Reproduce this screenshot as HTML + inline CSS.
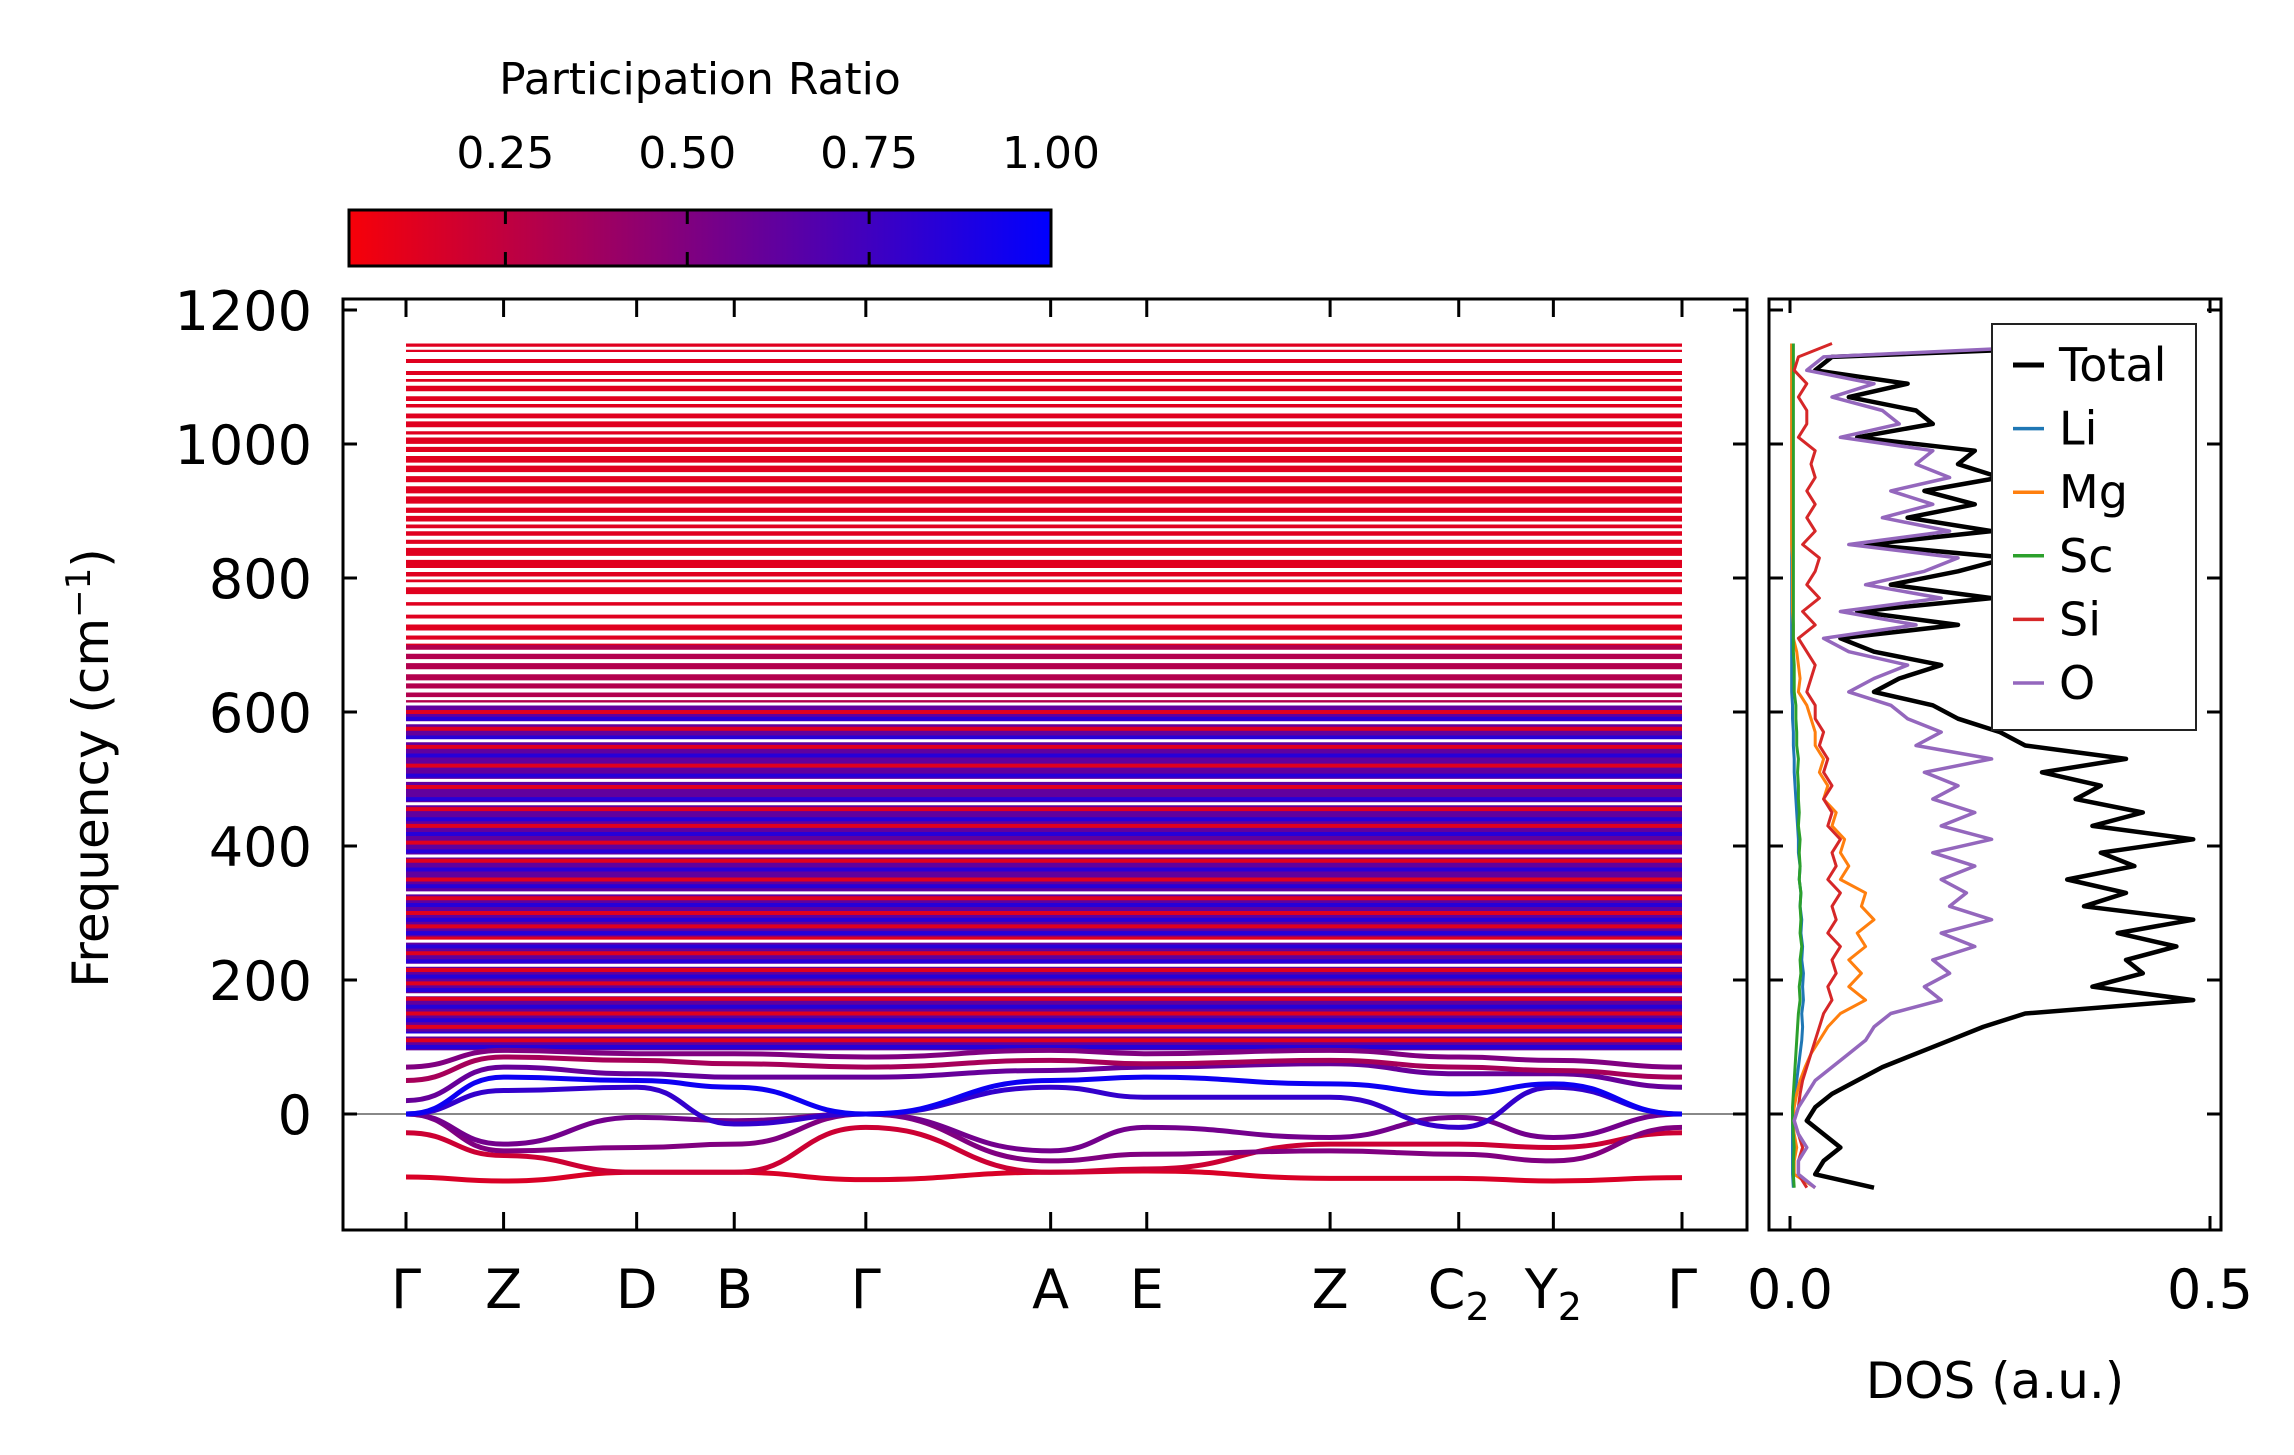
<!DOCTYPE html>
<html><head><meta charset="utf-8"><style>
body{margin:0;background:#fff}
svg{display:block;font-family:"DejaVu Sans","Liberation Sans",sans-serif}
</style></head><body>
<svg id="fig" width="2294" height="1455" viewBox="0 0 2294 1455" xmlns="http://www.w3.org/2000/svg">
<defs>
<linearGradient id="cg" x1="0" x2="1" y1="0" y2="0">
<stop offset="0" stop-color="#f70008"/><stop offset="1" stop-color="#0000ff"/>
</linearGradient>
<clipPath id="mainclip"><rect x="343" y="299" width="1404" height="931"/></clipPath>
<clipPath id="dosclip"><rect x="1769" y="299" width="452" height="931"/></clipPath>
</defs>
<g id="cbar">
<text x="700" y="94" font-size="44" text-anchor="middle">Participation Ratio</text>
<rect x="349" y="210" width="702" height="56" fill="url(#cg)" stroke="#000" stroke-width="3"/>
</g>
<g id="main">
<g id="bands" clip-path="url(#mainclip)"></g>
<rect x="343" y="299" width="1404" height="931" fill="none" stroke="#000" stroke-width="3"/>
<g id="mainAxes"></g>
<text transform="translate(108,768) rotate(-90)" font-size="50" text-anchor="middle">Frequency (cm<tspan dy="-18" font-size="34">−1</tspan><tspan dy="18">)</tspan></text>
</g>
<g id="dos">
<g id="dosLines" clip-path="url(#dosclip)"></g>
<rect x="1769" y="299" width="452" height="931" fill="none" stroke="#000" stroke-width="3"/>
<g id="dosAxes"></g>
<text x="1995" y="1398" font-size="50" text-anchor="middle">DOS (a.u.)</text>
<g id="legend"></g>
</g>
</svg>
<script>
const NS='http://www.w3.org/2000/svg';
// ---- band structure data ----
const kLabels=['Γ','Z','D','B','Γ','A','E','Z','C','Y','Γ'];
const kSubs=['','','','','','','','','2','2',''];
const kDist=[0,0.66,1.56,2.22,3.11,4.36,5.01,6.25,7.12,7.76,8.63];
const yTicks=[0,200,400,600,800,1000,1200];
const cbTicks=[0.25,0.50,0.75,1.00];
const cbRange=[0.035,1.0];
// high-frequency block (red)
const highBlock=[700,1150];
const highPR=0.12;
const highGaps=[1143,1132,1115,1100,1090,1075,1062,1050,1036,1022,1012,998,985,970,955,940,924,908,895,882,872,860,848,830,812,800,790,770,752,735,718,705];
const highGapW=[3,7,8,4,4,5,3,6,3,4,3,3,4,3,4,4,3,4,3,3,3,4,4,4,4,3,5,8,9,6,5,4];
// mid block
const midBlock=[612,700];
const midPR=0.3;
const midGaps=[690,676,660,645,632,620];
const midGapW=[4,4,5,3,4,3];
// dense block
const denseBlock=[95,612];
const densePR=0.62;
const denseRed=[600,575,548,520,488,455,430,405,378,350,322,300,280,262,240,215,195,172,150,130,110];
const denseBlue=[590,562,535,505,470,440,418,392,365,340,312,290,270,250,228,205,185,160,140,120,100];
const denseGaps=[612,584,557,498,463,385,330,258,222,178,118];
// low bands: frequency at each k-point
const lowBands=[
 [-94,-100,-87,-87,-98,-87,-85,-96,-96,-100,-95],
 [-28,-62,-87,-87,-20,-87,-82,-45,-45,-50,-28],
 [0,-55,-50,-45,0,-70,-60,-55,-60,-70,-20],
 [0,-45,-5,-10,0,-55,-20,-35,-5,-35,0],
 [0,35,40,-15,0,40,25,25,-20,40,0],
 [0,55,50,40,0,50,55,45,30,45,0],
 [20,70,60,55,55,65,70,75,60,60,40],
 [50,85,80,75,70,80,75,80,70,65,55],
 [70,95,90,90,85,95,90,95,85,80,70]
];
const lowPR=[0.15,0.2,0.5,0.55,0.8,0.95,0.6,0.35,0.5];
// ---- DOS data ----
const dosFreq=[-110,-90,-70,-50,-30,-10,10,30,50,70,90,110,130,150,170,190,210,230,250,270,290,310,330,350,370,390,410,430,450,470,490,510,530,550,570,590,610,630,650,670,690,710,730,750,770,790,810,830,850,870,890,910,930,950,970,990,1010,1030,1050,1070,1090,1110,1130,1150];
const dosTotal=[0.10,0.03,0.04,0.06,0.04,0.02,0.03,0.05,0.08,0.11,0.15,0.19,0.23,0.28,0.48,0.36,0.42,0.40,0.46,0.39,0.48,0.35,0.40,0.33,0.41,0.37,0.48,0.36,0.42,0.34,0.37,0.30,0.40,0.28,0.25,0.20,0.17,0.10,0.13,0.18,0.10,0.06,0.20,0.08,0.24,0.12,0.20,0.26,0.09,0.24,0.14,0.22,0.16,0.25,0.20,0.22,0.08,0.17,0.15,0.07,0.14,0.03,0.05,0.45];
const dosO=[0.03,0.01,0.01,0.02,0.01,0.005,0.01,0.02,0.03,0.05,0.07,0.09,0.10,0.12,0.18,0.16,0.19,0.17,0.22,0.18,0.24,0.19,0.21,0.18,0.22,0.17,0.24,0.18,0.22,0.17,0.20,0.16,0.24,0.15,0.18,0.14,0.12,0.07,0.10,0.14,0.07,0.04,0.15,0.06,0.18,0.09,0.16,0.20,0.07,0.19,0.11,0.17,0.12,0.19,0.15,0.17,0.06,0.13,0.11,0.05,0.10,0.02,0.04,0.38];
const dosSi=[0.02,0.01,0.01,0.015,0.01,0.005,0.01,0.012,0.015,0.02,0.025,0.03,0.035,0.04,0.05,0.045,0.055,0.05,0.06,0.045,0.055,0.05,0.06,0.045,0.055,0.05,0.06,0.045,0.05,0.04,0.05,0.04,0.045,0.035,0.04,0.03,0.03,0.02,0.025,0.03,0.02,0.01,0.03,0.015,0.035,0.02,0.03,0.035,0.015,0.03,0.02,0.03,0.02,0.03,0.025,0.03,0.01,0.02,0.02,0.01,0.02,0.005,0.01,0.05];
const dosMg=[0.03,0.005,0.005,0.008,0.005,0.003,0.005,0.008,0.012,0.018,0.025,0.035,0.045,0.06,0.09,0.07,0.085,0.07,0.09,0.08,0.1,0.085,0.09,0.06,0.07,0.06,0.065,0.05,0.055,0.04,0.045,0.035,0.04,0.03,0.03,0.025,0.02,0.01,0.012,0.01,0.008,0.004,0.004,0.003,0.003,0.003,0.003,0.003,0.002,0.002,0.002,0.002,0.002,0.002,0.002,0.002,0.002,0.002,0.002,0.002,0.002,0.002,0.002,0.002];
const dosLi=[0.004,0.003,0.003,0.003,0.003,0.003,0.004,0.006,0.008,0.01,0.012,0.014,0.015,0.014,0.016,0.015,0.016,0.014,0.015,0.013,0.014,0.012,0.013,0.011,0.012,0.01,0.01,0.009,0.008,0.007,0.006,0.005,0.005,0.004,0.004,0.003,0.003,0.002,0.002,0.002,0.002,0.002,0.002,0.002,0.002,0.002,0.002,0.002,0.002,0.002,0.002,0.002,0.002,0.002,0.002,0.002,0.002,0.002,0.002,0.002,0.002,0.002,0.002,0.002];
const dosSc=[0.005,0.004,0.004,0.005,0.004,0.003,0.003,0.004,0.005,0.006,0.007,0.008,0.009,0.01,0.012,0.011,0.013,0.012,0.014,0.012,0.013,0.012,0.013,0.011,0.012,0.011,0.012,0.01,0.011,0.01,0.01,0.009,0.01,0.008,0.008,0.007,0.007,0.005,0.005,0.005,0.004,0.004,0.004,0.004,0.004,0.004,0.004,0.004,0.004,0.004,0.004,0.004,0.004,0.004,0.004,0.004,0.004,0.004,0.004,0.004,0.004,0.004,0.004,0.004];
const dosXTicks=[0.0,0.5];
const legendLabels=['Total','Li','Mg','Sc','Si','O'];

// ---- axis functions ----
const X0=406,X1=1682;
const kx=d=>X0+(d-kDist[0])/(kDist[kDist.length-1]-kDist[0])*(X1-X0);
const fy=f=>1114-f*0.67;
const dx=v=>1790+v*840;
const cbx=v=>349+(v-cbRange[0])/(cbRange[1]-cbRange[0])*702;
const prColor=p=>`rgb(${Math.round(255*(1-p))},0,${Math.round(255*p)})`;

function mk(tag,attrs,parent,text){const e=document.createElementNS(NS,tag);for(const k in attrs)e.setAttribute(k,attrs[k]);if(text!==undefined)e.textContent=text;parent.appendChild(e);return e;}

const bands=document.getElementById('bands');
const xl=kx(kDist[0]),xr=kx(kDist[kDist.length-1]);
function block(rng,pr,name){
  const r=mk('rect',{x:xl,y:fy(rng[1]),width:xr-xl,height:fy(rng[0])-fy(rng[1]),fill:prColor(pr)},bands);
  
  
}
function hline(f,w,col,name){
  const l=mk('line',{x1:xl,x2:xr,y1:fy(f),y2:fy(f),stroke:col,'stroke-width':w},bands);
  
  
}
block(highBlock,highPR,'high-frequency-bands');
highGaps.forEach((f,i)=>hline(f,highGapW[i],'#fff','band-gap'));
block(midBlock,midPR,'mid-frequency-bands');
midGaps.forEach((f,i)=>hline(f,midGapW[i],'#fff','band-gap'));
block(denseBlock,densePR,'dense-optical-bands');
denseRed.forEach(f=>hline(f,4,prColor(0.12),'band-red'));
denseBlue.forEach(f=>hline(f,4,prColor(0.85),'band-blue'));
denseGaps.forEach(f=>hline(f,3,'#fff','band-gap'));
// zero line
const zl=mk('line',{x1:343,x2:1747,y1:fy(0),y2:fy(0),stroke:'#888','stroke-width':2},bands);


lowBands.forEach((b,i)=>{
  let d=`M${kx(kDist[0])},${fy(b[0])}`;
  for(let j=1;j<b.length;j++){
    const a=kx(kDist[j-1]),c=kx(kDist[j]),m=(c-a)/2;
    d+=` C${a+m},${fy(b[j-1])} ${c-m},${fy(b[j])} ${c},${fy(b[j])}`;
  }
  const p=mk('path',{d:d,fill:'none',stroke:prColor(lowPR[i]),'stroke-width':5},bands);
  
  
});

// main axes ticks
const ma=document.getElementById('mainAxes');
yTicks.forEach(t=>{
  const y=fy(t);
  mk('line',{x1:343,x2:357,y1:y,y2:y,stroke:'#000','stroke-width':3},ma);
  mk('line',{x1:1733,x2:1747,y1:y,y2:y,stroke:'#000','stroke-width':3},ma);
  const tx=mk('text',{x:312,y:y+20,'font-size':54,'text-anchor':'end'},ma,String(t));
  
  
});
kDist.forEach((d,i)=>{
  const x=kx(d);
  mk('line',{x1:x,x2:x,y1:299,y2:317,stroke:'#000','stroke-width':3},ma);
  mk('line',{x1:x,x2:x,y1:1212,y2:1230,stroke:'#000','stroke-width':3},ma);
  const tx=mk('text',{x:x,y:1308,'font-size':54,'text-anchor':'middle'},ma,kLabels[i]);
  if(kSubs[i]){mk('tspan',{dy:12,'font-size':38},tx,kSubs[i]);}
  
  
});
// colorbar ticks
const cb=document.getElementById('cbar');
cbTicks.forEach(t=>{
  const x=cbx(t);
  mk('line',{x1:x,x2:x,y1:210,y2:224,stroke:'#000','stroke-width':3},cb);
  mk('line',{x1:x,x2:x,y1:252,y2:266,stroke:'#000','stroke-width':3},cb);
  const tx=mk('text',{x:x,y:168,'font-size':44,'text-anchor':'middle'},cb,t.toFixed(2));
  
  
});

// DOS
const dl=document.getElementById('dosLines');
const series=[dosTotal,dosLi,dosMg,dosSc,dosSi,dosO];
const colors=['#000','#1f77b4','#ff7f0e','#2ca02c','#d62728','#9467bd'];
const widths=[4.5,3,3,3,3,3.5];
series.forEach((s,i)=>{
  const pts=s.map((v,j)=>`${dx(v)},${fy(dosFreq[j])}`).join(' ');
  const p=mk('polyline',{points:pts,fill:'none',stroke:colors[i],'stroke-width':widths[i],'stroke-linejoin':'round'},dl);
  
  
});
const da=document.getElementById('dosAxes');
yTicks.forEach(t=>{
  const y=fy(t);
  mk('line',{x1:1769,x2:1783,y1:y,y2:y,stroke:'#000','stroke-width':3},da);
  mk('line',{x1:2207,x2:2221,y1:y,y2:y,stroke:'#000','stroke-width':3},da);
});
dosXTicks.forEach(t=>{
  const x=dx(t);
  mk('line',{x1:x,x2:x,y1:299,y2:313,stroke:'#000','stroke-width':3},da);
  mk('line',{x1:x,x2:x,y1:1216,y2:1230,stroke:'#000','stroke-width':3},da);
  const tx=mk('text',{x:x,y:1308,'font-size':54,'text-anchor':'middle'},da,t.toFixed(1));
  
  
});
// legend
const lg=document.getElementById('legend');
mk('rect',{x:1992,y:324,width:204,height:406,fill:'#fff',stroke:'#222','stroke-width':2},lg);
legendLabels.forEach((l,i)=>{
  const y=365+i*63.6;
  const ln=mk('line',{x1:2013,x2:2044,y1:y,y2:y,stroke:colors[i],'stroke-width':i===0?5:3.5},lg);
  
  
  const tx=mk('text',{x:2059,y:y+16,'font-size':46},lg,l);
  
  
});
</script>
</body></html>
